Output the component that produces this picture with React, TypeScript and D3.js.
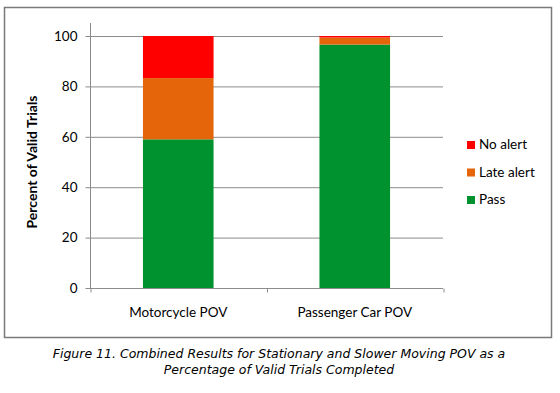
import { useEffect, useRef } from "react";
import * as d3 from "d3";

const categories = ["Motorcycle POV", "Passenger Car POV"];
const seriesNames = ["Pass", "Late alert", "No alert"];
const passValues = [59, 96.6];
const lateAlertValues = [24.3, 2.8];
const noAlertValues = [16.7, 0.6];
const yTicks = [0, 20, 40, 60, 80, 100];
const captionLines = [
  "Figure 11. Combined Results for Stationary and Slower Moving POV as a",
  "Percentage of Valid Trials Completed",
];

const colors: Record<string, string> = {
  "Pass": "#00922f",
  "Late alert": "#e4650a",
  "No alert": "#ff0000",
};

const W = 560;
const H = 393;
const font = "Lato, 'Open Sans', sans-serif";

function App() {
  const ref = useRef<SVGSVGElement | null>(null);

  useEffect(() => {
    const svg = d3.select(ref.current);
    svg.selectAll("*").remove();

    // frame
    svg.append("rect")
      .attr("x", 4.5).attr("y", 7.5)
      .attr("width", 547).attr("height", 330)
      .attr("fill", "#fff")
      .attr("stroke", "#7a7a7a")
      .attr("stroke-width", 1.5);

    const left = 90, right = 443, top = 36, bottom = 288;

    const x = d3.scaleBand<string>().domain(categories).range([left, right]).paddingInner(0.6).paddingOuter(0.3);
    const y = d3.scaleLinear().domain([0, 100]).range([bottom, top]);

    const rows = categories.map((c, i) => ({
      category: c,
      "Pass": passValues[i],
      "Late alert": lateAlertValues[i],
      "No alert": noAlertValues[i],
    }));
    const stacked = d3.stack<any>().keys(seriesNames)(rows);

    // gridlines
    svg.append("g")
      .selectAll("line")
      .data(yTicks.filter((t) => t > 0))
      .join("line")
      .attr("x1", left).attr("x2", right)
      .attr("y1", (d) => y(d) + 0.5).attr("y2", (d) => y(d) + 0.5)
      .attr("stroke", "#8c8c8c")
      .attr("stroke-width", 1);

    // bars
    svg.append("g")
      .selectAll("g")
      .data(stacked)
      .join("g")
      .attr("fill", (s) => colors[s.key])
      .selectAll("rect")
      .data((s) => s)
      .join("rect")
      .attr("x", (d: any) => x(d.data.category)!)
      .attr("width", x.bandwidth())
      .attr("y", (d) => y(d[1]))
      .attr("height", (d) => y(d[0]) - y(d[1]));

    // y axis
    const yAxis = svg.append("g")
      .attr("transform", `translate(${left + 0.5},0)`)
      .call(d3.axisLeft(y).tickValues(yTicks).tickSize(5).tickPadding(8));
    yAxis.selectAll("line, path").attr("stroke", "#8c8c8c");
    yAxis.select(".domain").attr("d", `M0,23V${bottom + 0.5}`);
    yAxis.selectAll("text")
      .attr("font-family", font)
      .attr("font-size", 13.5)
      .attr("fill", "#000");

    // x axis
    const xAxisScale = d3.scalePoint<string>().domain(["a", "b", "c"]).range([left, right]);
    const xAxis = svg.append("g")
      .attr("transform", `translate(0,${bottom + 0.5})`)
      .call(d3.axisBottom(xAxisScale).tickSize(4).tickFormat(() => ""));
    xAxis.selectAll("line, path").attr("stroke", "#8c8c8c");
    xAxis.select(".domain").attr("d", `M${left},0H${right}`);
    xAxis.selectAll(".tick line").attr("transform", "translate(0.5,0)");

    svg.append("g")
      .selectAll("text")
      .data(categories)
      .join("text")
      .attr("x", (d) => x(d)! + x.bandwidth() / 2)
      .attr("y", 317)
      .attr("text-anchor", "middle")
      .attr("font-family", font)
      .attr("font-size", 13.5)
      .text((d) => d);

    // y label
    svg.append("text")
      .attr("transform", `translate(37,${(top + bottom) / 2}) rotate(-90)`)
      .attr("text-anchor", "middle")
      .attr("font-family", font)
      .attr("font-weight", "bold")
      .attr("font-size", 14)
      .text("Percent of Valid Trials");

    // legend
    const legend = svg.append("g")
      .selectAll("g")
      .data([...seriesNames].reverse())
      .join("g")
      .attr("transform", (_, i) => `translate(467,${141 + i * 27.5})`);
    legend.append("rect")
      .attr("width", 8).attr("height", 8)
      .attr("fill", (d) => colors[d]);
    legend.append("text")
      .attr("x", 12).attr("y", 8)
      .attr("font-family", font)
      .attr("font-size", 13.5)
      .text((d) => d);

    // caption
    svg.append("g")
      .selectAll("text")
      .data(captionLines)
      .join("text")
      .attr("x", 279)
      .attr("y", (_, i) => 358 + i * 16)
      .attr("text-anchor", "middle")
      .attr("font-family", "'DejaVu Sans', sans-serif")
      .attr("font-style", "italic")
      .attr("font-size", 12.5)
      .text((d) => d);
  }, []);

  return (
    <svg ref={ref} width={W} height={H} style={{ position: "absolute", left: 0, top: 0 }} />
  );
}

export default App;
